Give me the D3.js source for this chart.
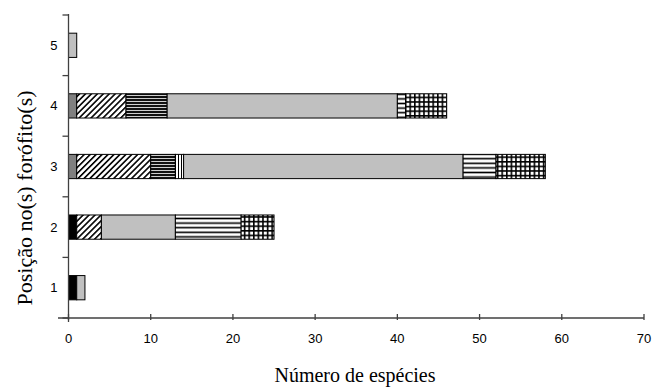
<!DOCTYPE html>
<html>
<head>
<meta charset="utf-8">
<script src="https://cdn.jsdelivr.net/npm/d3@7"></script>
<style>
  body { margin: 0; background: #fff; }
  svg { display: block; }
</style>
</head>
<body>
<div id="chart"></div>
<script>
// posições no forófito (eixo y)
var posicoes = ["1", "2", "3", "4", "5"];
var xTicks = [0, 10, 20, 30, 40, 50, 60, 70];

// número de espécies por categoria (empilhado, na ordem do gráfico)
var preto       = [1, 1, 0, 0, 0];
var cinzaEscuro = [0, 0, 1, 1, 0];
var diagonal    = [0, 3, 9, 6, 0];
var horizDenso  = [0, 0, 3, 5, 0];
var vertical    = [0, 0, 1, 0, 0];
var cinzaClaro  = [1, 9, 34, 28, 1];
var horizontal  = [0, 8, 4, 1, 0];
var grade       = [0, 4, 6, 5, 0];

var series = ["preto", "cinzaEscuro", "diagonal", "horizDenso", "vertical", "cinzaClaro", "horizontal", "grade"];
var valores = { preto: preto, cinzaEscuro: cinzaEscuro, diagonal: diagonal, horizDenso: horizDenso,
                vertical: vertical, cinzaClaro: cinzaClaro, horizontal: horizontal, grade: grade };

var tabela = posicoes.map(function(p, i) {
  var row = { pos: p };
  series.forEach(function(s) { row[s] = valores[s][i]; });
  return row;
});

const width = 653, height = 389;

var svg = d3.select("#chart")
  .append("svg")
  .attr("width", width)
  .attr("height", height);

// padrões (hachuras)
var defs = svg.append("defs");

var pDiag = defs.append("pattern").attr("id", "p-diagonal")
  .attr("patternUnits", "userSpaceOnUse").attr("width", 4.2).attr("height", 4.2)
  .attr("patternTransform", "rotate(45)");
pDiag.append("rect").attr("width", 4.2).attr("height", 4.2).attr("fill", "#fff");
pDiag.append("rect").attr("width", 1.6).attr("height", 4.2).attr("fill", "#000");

var pDenso = defs.append("pattern").attr("id", "p-horizDenso")
  .attr("patternUnits", "userSpaceOnUse").attr("width", 6).attr("height", 3);
pDenso.append("rect").attr("width", 6).attr("height", 3).attr("fill", "#fff");
pDenso.append("rect").attr("width", 6).attr("height", 2.2).attr("fill", "#111");

var pVert = defs.append("pattern").attr("id", "p-vertical")
  .attr("patternUnits", "userSpaceOnUse").attr("width", 3).attr("height", 6);
pVert.append("rect").attr("width", 3).attr("height", 6).attr("fill", "#fff");
pVert.append("rect").attr("x", 1).attr("width", 1).attr("height", 6).attr("fill", "#000");

var pHor = defs.append("pattern").attr("id", "p-horizontal")
  .attr("patternUnits", "userSpaceOnUse").attr("width", 6).attr("height", 4.6);
pHor.append("rect").attr("width", 6).attr("height", 4.6).attr("fill", "#fff");
pHor.append("rect").attr("y", 1.5).attr("width", 6).attr("height", 1.6).attr("fill", "#000");

var pGrade = defs.append("pattern").attr("id", "p-grade")
  .attr("patternUnits", "userSpaceOnUse").attr("width", 4.6).attr("height", 4.6);
pGrade.append("rect").attr("width", 4.6).attr("height", 4.6).attr("fill", "#fff");
pGrade.append("rect").attr("x", 0).attr("width", 1.6).attr("height", 4.6).attr("fill", "#000");
pGrade.append("rect").attr("y", 0).attr("width", 4.6).attr("height", 1.6).attr("fill", "#000");

var preenchimento = {
  preto: "#000",
  cinzaEscuro: "#808080",
  diagonal: "url(#p-diagonal)",
  horizDenso: "url(#p-horizDenso)",
  vertical: "url(#p-vertical)",
  cinzaClaro: "#c0c0c0",
  horizontal: "url(#p-horizontal)",
  grade: "url(#p-grade)"
};

// escalas
var x = d3.scaleLinear().domain([0, 70]).range([68.5, 644]);
var y = d3.scaleBand()
  .domain(posicoes.slice().reverse())
  .range([15, 318])
  .paddingInner(0.6)
  .paddingOuter(0.3);

var pilha = d3.stack().keys(series)(tabela);

svg.append("g")
  .selectAll("g")
  .data(pilha)
  .join("g")
  .attr("fill", function(d) { return preenchimento[d.key]; })
  .selectAll("rect")
  .data(function(d) { return d.filter(function(v) { return v[1] - v[0] > 0; }); })
  .join("rect")
  .attr("x", function(d) { return x(d[0]); })
  .attr("y", function(d) { return y(d.data.pos); })
  .attr("width", function(d) { return x(d[1]) - x(d[0]); })
  .attr("height", y.bandwidth())
  .attr("stroke", "#000")
  .attr("stroke-width", 1);

// eixo x
var eixoX = svg.append("g").attr("transform", "translate(0,318)");
eixoX.append("line")
  .attr("x1", 58).attr("x2", x(70))
  .attr("stroke", "#404040").attr("stroke-width", 1.3);
eixoX.selectAll(".tick")
  .data(xTicks)
  .join("line")
  .attr("x1", function(d) { return x(d); }).attr("x2", function(d) { return x(d); })
  .attr("y1", -4).attr("y2", 2)
  .attr("stroke", "#404040").attr("stroke-width", 1.3);
eixoX.selectAll("text")
  .data(xTicks)
  .join("text")
  .attr("x", function(d) { return x(d); })
  .attr("y", 25)
  .attr("text-anchor", "middle")
  .style("font-family", "'Liberation Sans', Arial, sans-serif")
  .style("font-size", "13px")
  .text(function(d) { return d; });

// eixo y
var eixoY = svg.append("g").attr("transform", "translate(" + x(0) + ",0)");
eixoY.append("line")
  .attr("y1", 14).attr("y2", 322)
  .attr("stroke", "#404040").attr("stroke-width", 1.3);
var yTicks = d3.range(6).map(function(i) { return 15 + i * y.step(); });
eixoY.selectAll(".tk")
  .data(yTicks)
  .join("line")
  .attr("x1", -6).attr("x2", 0)
  .attr("y1", function(d) { return d; }).attr("y2", function(d) { return d; })
  .attr("stroke", "#404040").attr("stroke-width", 1.3);
eixoY.selectAll("text")
  .data(posicoes)
  .join("text")
  .attr("x", -11)
  .attr("y", function(d) { return y(d) + y.bandwidth() / 2; })
  .attr("dy", "0.35em")
  .attr("text-anchor", "end")
  .style("font-family", "'Liberation Sans', Arial, sans-serif")
  .style("font-size", "13px")
  .text(function(d) { return d; });

// títulos
svg.append("text")
  .attr("x", 355).attr("y", 382)
  .attr("text-anchor", "middle")
  .style("font-family", "'Liberation Serif', 'Times New Roman', serif")
  .style("font-size", "20px")
  .text("Número de espécies");

svg.append("text")
  .attr("transform", "translate(32,198) rotate(-90)")
  .attr("text-anchor", "middle")
  .style("font-family", "'Liberation Serif', 'Times New Roman', serif")
  .style("font-size", "22px")
  .text("Posição no(s) forófito(s)");
</script>
</body>
</html>
